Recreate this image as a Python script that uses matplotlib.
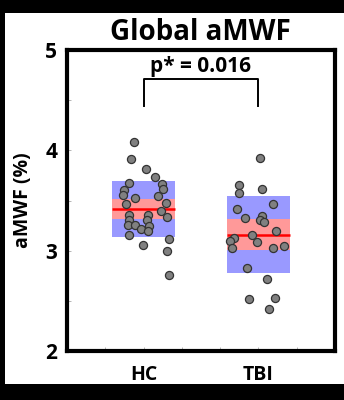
import matplotlib
matplotlib.use("Agg")
import matplotlib.pyplot as plt
from matplotlib.patches import Rectangle

# ---- data ----
groups = ["HC", "TBI"]
group_pos = [2, 5]
tick_positions = [1, 2, 3, 4, 5, 6]

hc_x = [1.75, 1.67, 2.07, 2.29, 1.63, 2.49, 2.51, 1.48, 1.45, 2.37, 1.77, 1.54, 2.58, 2.45,
        2.62, 1.63, 2.12, 1.61, 2.08, 1.59, 1.77, 2.14, 1.94, 2.12, 1.63, 2.66, 1.99, 2.62, 2.66]
hc_y = [4.08, 3.91, 3.81, 3.73, 3.67, 3.66, 3.61, 3.60, 3.55, 3.54, 3.52, 3.47, 3.48, 3.40,
        3.34, 3.36, 3.36, 3.31, 3.31, 3.26, 3.26, 3.25, 3.22, 3.20, 3.16, 3.12, 3.06, 3.00, 2.76]

tbi_x = [5.03, 4.50, 4.50, 5.09, 5.38, 4.44, 4.64, 5.10, 5.04, 5.14, 5.45, 4.82, 4.37, 4.27,
         4.96, 4.32, 5.37, 5.66, 4.71, 5.23, 4.75, 5.43, 5.27]
tbi_y = [3.92, 3.65, 3.57, 3.61, 3.47, 3.42, 3.33, 3.35, 3.31, 3.29, 3.20, 3.16, 3.13, 3.10,
         3.09, 3.03, 3.03, 3.05, 2.83, 2.72, 2.52, 2.53, 2.42]

means = [3.415, 3.16]
sem = [0.095, 0.155]   # pink band half-width
sd = [0.28, 0.385]     # blue band half-width

p_text = "p* = 0.016"
title = "Global aMWF"
ylabel = "aMWF (%)"

# ---- figure ----
FONT = ["Open Sans", "DejaVu Sans"]
fig = plt.figure(figsize=(3.44, 4.0), dpi=100, facecolor="black")
fig.patches.append(Rectangle((5 / 344, 16 / 400), 1 - 5 / 344, (384 - 13) / 400,
                             transform=fig.transFigure, facecolor="white",
                             edgecolor="none", zorder=-5))

ax = fig.add_axes([67 / 344, 49 / 400, (335 - 67) / 344, (351 - 50) / 400])
ax.set_facecolor("white")
ax.set_xlim(0, 7)
ax.set_ylim(2, 5)

half_w = 0.825
xs_all = [hc_x, tbi_x]
ys_all = [hc_y, tbi_y]
for i, cx in enumerate(group_pos):
    ax.add_patch(Rectangle((cx - half_w, means[i] - sd[i]), 2 * half_w, 2 * sd[i],
                           facecolor="#9999ff", edgecolor="none", zorder=1))
    ax.add_patch(Rectangle((cx - half_w, means[i] - sem[i]), 2 * half_w, 2 * sem[i],
                           facecolor="#ff9999", edgecolor="none", zorder=2))
    ax.plot([cx - half_w, cx + half_w], [means[i], means[i]], color="#ff0000",
            lw=1.8, solid_capstyle="butt", zorder=3)
    ax.scatter(xs_all[i], ys_all[i], s=34, facecolor="#808080", edgecolor="#333333",
               linewidths=0.9, zorder=4)

# significance bracket
ax.plot([group_pos[0], group_pos[0], group_pos[1], group_pos[1]],
        [4.44, 4.71, 4.71, 4.44], color="black", lw=1.4, zorder=5)
ax.text(sum(group_pos) / 2, 4.84, p_text, ha="center", va="center",
        fontsize=15, fontweight="bold", family=FONT)

# ticks
yt = [2, 2.5, 3, 3.5, 4, 4.5, 5]
ax.set_yticks(yt)
ax.set_yticklabels([("%d" % v if v == int(v) else "") for v in yt],
                   fontsize=15, fontweight="bold", family=FONT)
ax.set_xticks(tick_positions)
xl = {p: g for p, g in zip(group_pos, groups)}
ax.set_xticklabels([xl.get(p, "") for p in tick_positions],
                   fontsize=14, fontweight="bold", family=FONT)
ax.tick_params(axis="both", direction="in", length=3, width=0.6, color="#aaaaaa",
               labelcolor="black")
ax.tick_params(axis="y", pad=7)
ax.tick_params(axis="x", pad=10)

for s in ax.spines.values():
    s.set_linewidth(3)
    s.set_color("black")

ax.set_ylabel(ylabel, fontsize=14, fontweight="bold", family=FONT)
ax.yaxis.set_label_coords(-0.125, 0.5)
fig.text(200 / 344, 1 - 32.5 / 400, title, ha="center", va="center",
         fontsize=20, fontweight="bold", family=FONT)

fig.savefig("out.png", dpi=100, facecolor="black")
